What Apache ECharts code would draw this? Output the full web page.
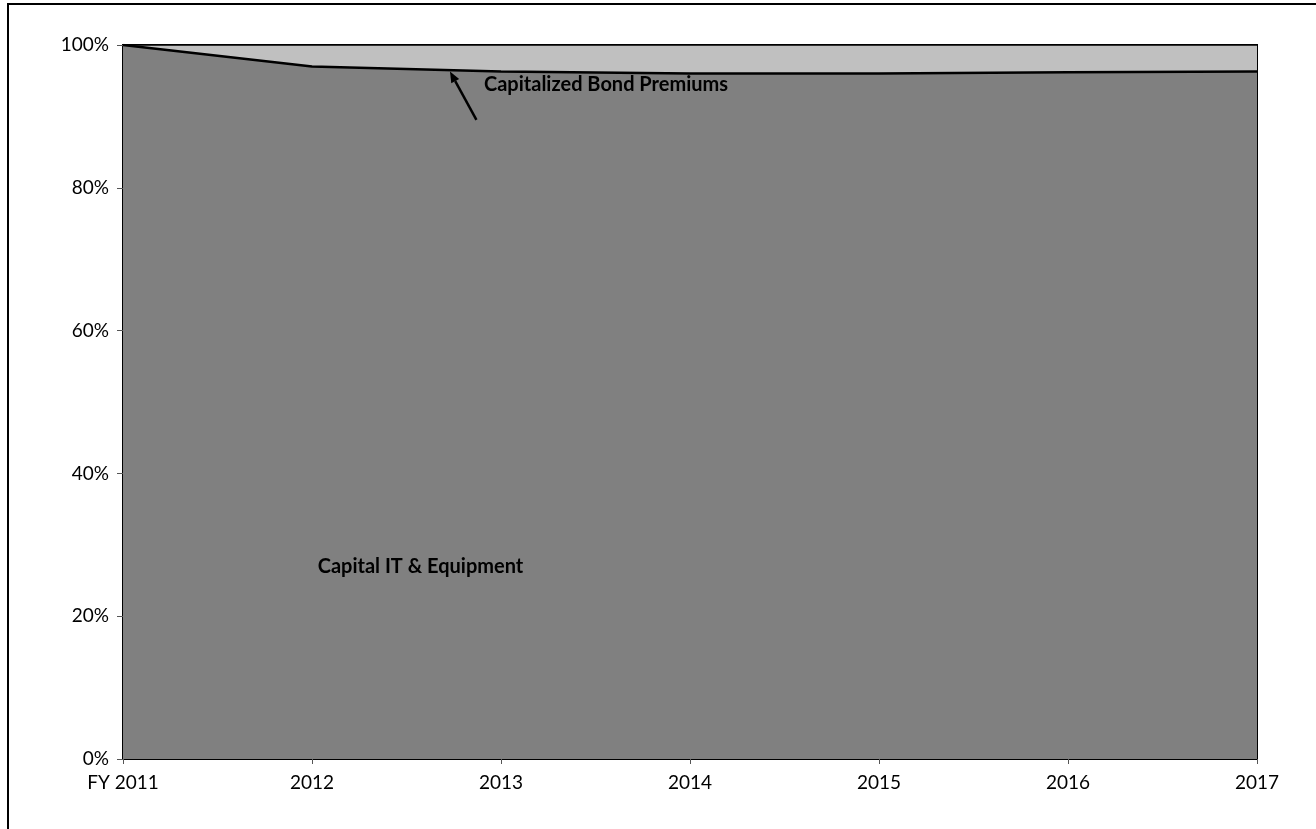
<!DOCTYPE html>
<html>
<head>
<meta charset="utf-8">
<script src="https://cdn.jsdelivr.net/npm/echarts@6/dist/echarts.min.js"></script>
<style>
html,body{margin:0;padding:0;background:#fff;}
#c{width:1316px;height:829px;}
</style>
</head>
<body>
<div id="c"></div>
<script>
var categories = ['FY 2011', '2012', '2013', '2014', '2015', '2016', '2017'];
var capitalIT = [100, 97.0, 96.3, 96.0, 96.0, 96.2, 96.3];
var bondPremiums = [0, 3.0, 3.7, 4.0, 4.0, 3.8, 3.7];
var yTicks = [0, 20, 40, 60, 80, 100];

var FONT = 'Lato, "Open Sans", sans-serif';
var chart = echarts.init(document.getElementById('c'), null, {renderer: 'canvas'});

var option = {
  animation: false,
  backgroundColor: '#fff',
  grid: {left: 123, right: 59, top: 45, bottom: 70, show: true, borderColor: '#000', borderWidth: 2, backgroundColor: 'transparent'},
  xAxis: {
    type: 'category',
    data: categories,
    boundaryGap: false,
    axisLine: {show: true, lineStyle: {color: '#000', width: 2}},
    axisTick: {show: true, length: 5, lineStyle: {color: '#555', width: 1}},
    axisLabel: {color: '#000', fontSize: 19, fontFamily: FONT, margin: 14},
    splitLine: {show: false}
  },
  yAxis: {
    type: 'value',
    min: 0, max: 100, interval: 20,
    axisLine: {show: true, lineStyle: {color: '#000', width: 2}},
    axisTick: {show: true, length: 6, lineStyle: {color: '#555', width: 1}},
    axisLabel: {color: '#000', fontSize: 19, fontFamily: FONT, margin: 14,
      formatter: function (v) { return yTicks.indexOf(v) >= 0 ? v + '%' : ''; }},
    splitLine: {show: false}
  },
  series: [
    {
      name: 'Capital IT & Equipment',
      type: 'line', stack: 'total', data: capitalIT,
      symbol: 'none', smooth: false,
      lineStyle: {color: '#000', width: 2.5},
      areaStyle: {color: '#808080', opacity: 1},
      z: 3
    },
    {
      name: 'Capitalized Bond Premiums',
      type: 'line', stack: 'total', data: bondPremiums,
      symbol: 'none',
      lineStyle: {color: '#000', width: 1.5},
      areaStyle: {color: '#C0C0C0', opacity: 1},
      z: 2
    }
  ]
};
chart.setOption(option);

// annotation positions in data space (fractional category index, percent)
var arrowTip = [1.73, 96.3];
var arrowTail = [1.87, 89.5];
var bondLabelAt = [1.91, 94.5];
var itLabelAt = [1.03, 27.0];

var p = function (d) {
  var i0 = Math.floor(d[0]), f = d[0] - i0;
  var a = chart.convertToPixel({gridIndex: 0}, [i0, d[1]]);
  var b = chart.convertToPixel({gridIndex: 0}, [i0 + 1, d[1]]);
  return [a[0] + (b[0] - a[0]) * f, a[1]];
};
var tip = p(arrowTip), tail = p(arrowTail), bl = p(bondLabelAt), il = p(itLabelAt);
var ang = Math.atan2(tip[1] - tail[1], tip[0] - tail[0]);
var hl = 11, hw = 4.5;
var bx = tip[0] - hl * Math.cos(ang), by = tip[1] - hl * Math.sin(ang);
var nx = -Math.sin(ang) * hw, ny = Math.cos(ang) * hw;

chart.setOption({
  graphic: [
    {type: 'rect', shape: {x: 8, y: 4, width: 1400, height: 900}, style: {fill: 'none', stroke: '#000', lineWidth: 2}, silent: true, z: 0},
    {type: 'line', shape: {x1: tail[0], y1: tail[1], x2: bx, y2: by}, style: {stroke: '#000', lineWidth: 2.5}, z: 100},
    {type: 'polygon', shape: {points: [[tip[0], tip[1]], [bx + nx, by + ny], [bx - nx, by - ny]]}, style: {fill: '#000'}, z: 100},
    {type: 'text', x: bl[0], y: bl[1], style: {text: 'Capitalized Bond Premiums', fill: '#000', font: 'bold 20px ' + FONT, textAlign: 'left', textVerticalAlign: 'middle'}, z: 100},
    {type: 'text', x: il[0], y: il[1], style: {text: 'Capital IT & Equipment', fill: '#000', font: 'bold 20px ' + FONT, textAlign: 'left', textVerticalAlign: 'middle'}, z: 100}
  ]
});
</script>
</body>
</html>
